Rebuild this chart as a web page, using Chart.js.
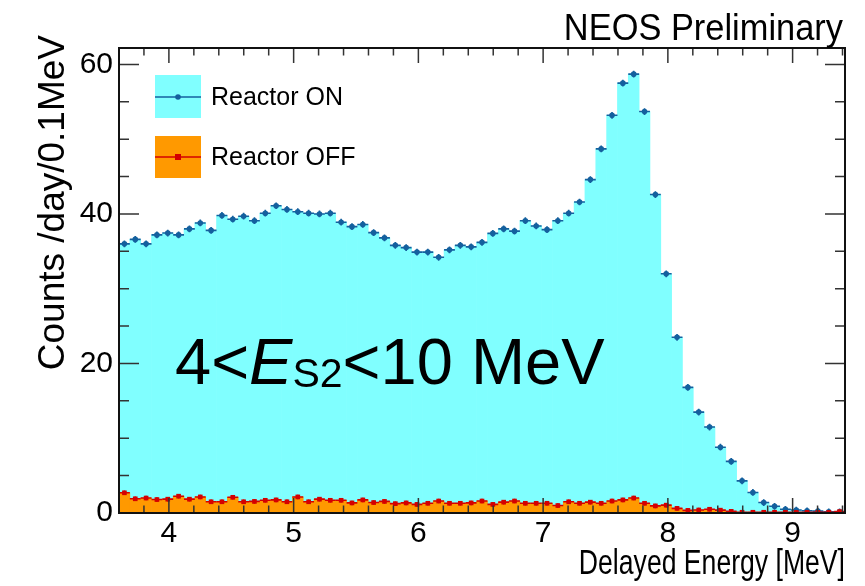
<!DOCTYPE html>
<html>
<head>
<meta charset="utf-8">
<script src="https://cdn.jsdelivr.net/npm/chart.js@4/dist/chart.umd.min.js"></script>
<style>
  html, body { margin: 0; padding: 0; background: #fff; }
  #wrap { width: 865px; height: 586px; }
</style>
</head>
<body>
<div id="wrap"><canvas id="chart" width="865" height="586"></canvas></div>
<script>
// Delayed energy spectrum, reactor on / off, counts per day per bin
const energyMin = 3.6;
const energyMax = 9.42;
const countsMax = 62.2;

const reactorOn = [
  36.0, 36.6, 36.0, 37.2, 37.45, 37.2, 38.0, 38.8, 37.8, 39.8,
  39.3, 39.7, 39.1, 40.1, 41.1, 40.6, 40.3, 40.1, 40.0, 40.1,
  38.9, 38.3, 38.6, 37.5, 36.8, 35.8, 35.5, 34.9, 34.9, 34.2,
  35.2, 35.8, 35.6, 36.2, 37.4, 38.0, 37.7, 39.1, 38.4, 37.9,
  39.1, 40.1, 41.6, 44.6, 48.7, 53.2, 57.5, 58.7, 53.7, 42.6,
  32.0, 23.5, 16.8, 13.5, 11.5, 8.8, 6.9, 4.3, 2.75, 1.4,
  0.9, 0.5, 0.4, 0.3, 0.25, 0.15, 0.15
];

const reactorOff = [
  2.7, 1.9, 2.0, 1.8, 1.85, 2.25, 1.85, 2.15, 1.5, 1.5,
  2.1, 1.5, 1.55, 1.7, 1.75, 1.5, 2.15, 1.5, 1.85, 1.7,
  1.7, 1.35, 1.75, 1.4, 1.55, 1.25, 1.35, 1.15, 1.3, 1.6,
  1.3, 1.3, 1.35, 1.6, 1.15, 1.45, 1.6, 1.3, 1.3, 1.3,
  1.0, 1.5, 1.3, 1.45, 1.3, 1.6, 1.75, 2.0, 1.3, 0.95,
  1.05, 0.62, 0.35, 0.4, 0.5, 0.38, 0.22, 0.1, 0.1, 0.1,
  0.1, 0.08, 0.08, 0.08, 0.08, 0.08, 0.18
];

// statistical error half-heights
const onErr = 0.45;
const offErr = 0.3;

const xTicks = [4, 5, 6, 7, 8, 9];
const xTickLabels = ['4', '5', '6', '7', '8', '9'];
const yTicks = [0, 20, 40, 60];
const yTickLabels = ['0', '20', '40', '60'];

const binLabels = reactorOn.map((_, i) => String(i));

const FONT = '"Liberation Sans", Arial, Helvetica, sans-serif';
const CYAN = '#80ffff';
const ORANGE = '#ff9900';
const BLUE = '#14609e';
const RED = '#d40000';

// text squeezed horizontally by sx
function squeezed(ctx, text, x, y, font, sx, align) {
  ctx.save();
  ctx.font = font;
  ctx.textAlign = align;
  ctx.translate(x, y);
  ctx.scale(sx, 1);
  ctx.fillText(text, 0, 0);
  ctx.restore();
}

function drawErrors(chart, dsIndex, values, err, color) {
  const ctx = chart.ctx;
  const bars = chart.getDatasetMeta(dsIndex).data;
  const y = chart.scales.y;
  ctx.save();
  ctx.strokeStyle = color;
  ctx.lineWidth = 1.6;
  values.forEach((v, i) => {
    const b = bars[i];
    const half = b.width / 2;
    const py = y.getPixelForValue(v);
    ctx.beginPath();
    ctx.moveTo(b.x - half, py);
    ctx.lineTo(b.x + half, py);
    ctx.moveTo(b.x, y.getPixelForValue(v + err));
    ctx.lineTo(b.x, y.getPixelForValue(Math.max(0, v - err)));
    ctx.stroke();
  });
  ctx.restore();
}

const errorBars = {
  id: 'errorBars',
  beforeDatasetDraw(chart, args) {
    if (args.index === 2) drawErrors(chart, 0, reactorOn, onErr, BLUE);
    if (args.index === 3) drawErrors(chart, 1, reactorOff, offErr, RED);
  }
};

const frame = {
  id: 'frame',
  afterDraw(chart) {
    const ctx = chart.ctx;
    const a = chart.chartArea;
    const xe = chart.scales.xe;
    const y = chart.scales.y;
    ctx.save();

    // inward ticks on all four sides
    ctx.strokeStyle = '#333';
    ctx.lineWidth = 1.5;
    ctx.beginPath();
    for (let k = 18; k <= 47; k++) {
      const e = k * 0.2;
      if (e < energyMin || e > energyMax) continue;
      const px = xe.getPixelForValue(e);
      const len = (k % 5 === 0) ? 15 : 7.5;
      ctx.moveTo(px, a.bottom); ctx.lineTo(px, a.bottom - len);
      ctx.moveTo(px, a.top); ctx.lineTo(px, a.top + len);
    }
    for (let v = 0; v <= countsMax; v += 5) {
      const py = y.getPixelForValue(v);
      const len = (v % 20 === 0) ? 20 : 10;
      ctx.moveTo(a.left, py); ctx.lineTo(a.left + len, py);
      ctx.moveTo(a.right, py); ctx.lineTo(a.right - len, py);
    }
    ctx.stroke();

    ctx.strokeStyle = '#111';
    ctx.lineWidth = 2;
    ctx.strokeRect(a.left, a.top, a.right - a.left, a.bottom - a.top);

    // tick labels
    ctx.fillStyle = '#000';
    ctx.font = '30px ' + FONT;
    ctx.textAlign = 'center';
    ctx.textBaseline = 'top';
    xTicks.forEach((t, i) => ctx.fillText(xTickLabels[i], xe.getPixelForValue(t), a.bottom + 6));
    ctx.textAlign = 'right';
    ctx.textBaseline = 'middle';
    yTicks.forEach((t, i) => ctx.fillText(yTickLabels[i], a.left - 6, y.getPixelForValue(t)));

    // axis titles
    ctx.textBaseline = 'alphabetic';
    squeezed(ctx, 'Delayed Energy [MeV]', a.right, 574, '35px ' + FONT, 0.76, 'right');

    ctx.save();
    ctx.translate(64, 35);
    ctx.rotate(-Math.PI / 2);
    ctx.font = '37px ' + FONT;
    ctx.textAlign = 'right';
    ctx.fillText('Counts /day/0.1MeV', 0, 0);
    ctx.restore();

    squeezed(ctx, 'NEOS Preliminary', 843, 40, '37px ' + FONT, 0.93, 'right');

    // legend
    ctx.fillStyle = CYAN;
    ctx.fillRect(155, 75, 46, 43);
    ctx.fillStyle = ORANGE;
    ctx.fillRect(155, 136, 46, 42);
    ctx.lineWidth = 1.5;
    ctx.strokeStyle = BLUE;
    ctx.beginPath(); ctx.moveTo(155, 97); ctx.lineTo(201, 97); ctx.stroke();
    ctx.fillStyle = BLUE;
    ctx.beginPath(); ctx.arc(178, 97, 2.8, 0, Math.PI * 2); ctx.fill();
    ctx.strokeStyle = RED;
    ctx.beginPath(); ctx.moveTo(155, 157); ctx.lineTo(201, 157); ctx.stroke();
    ctx.fillStyle = RED;
    ctx.fillRect(175, 154, 6, 6);

    ctx.fillStyle = '#000';
    ctx.font = '25px ' + FONT;
    ctx.textAlign = 'left';
    ctx.textBaseline = 'middle';
    ctx.fillText('Reactor ON', 211, 98);
    ctx.fillText('Reactor OFF', 211, 158);

    // energy window of the prompt signal
    ctx.textBaseline = 'alphabetic';
    let x = 175;
    const base = 384;
    ctx.font = '65px ' + FONT;
    ctx.fillText('4<', x, base);
    x += ctx.measureText('4<').width;
    ctx.font = 'italic 65px ' + FONT;
    ctx.fillText('E', x, base);
    x += ctx.measureText('E').width;
    ctx.font = '41px ' + FONT;
    ctx.fillText('S2', x, base + 3);
    x += ctx.measureText('S2').width;
    ctx.font = '65px ' + FONT;
    ctx.fillText('<10 MeV', x, base);

    ctx.restore();
  }
};

new Chart(document.getElementById('chart'), {
  data: {
    labels: binLabels,
    datasets: [
      {
        type: 'bar', label: 'Reactor ON', data: reactorOn,
        backgroundColor: CYAN, borderWidth: 0, order: 3,
        barPercentage: 1, categoryPercentage: 1, grouped: false
      },
      {
        type: 'bar', label: 'Reactor OFF', data: reactorOff,
        backgroundColor: ORANGE, borderWidth: 0, order: 2,
        barPercentage: 1, categoryPercentage: 1, grouped: false
      },
      {
        type: 'line', data: reactorOn, showLine: false, order: 1,
        pointStyle: 'circle', pointRadius: 2.8, pointBorderWidth: 0,
        pointBackgroundColor: BLUE
      },
      {
        type: 'line', data: reactorOff, showLine: false, order: 0,
        pointStyle: 'rect', pointRadius: 3.3, pointBorderWidth: 0,
        pointBackgroundColor: RED
      }
    ]
  },
  options: {
    responsive: false,
    animation: false,
    devicePixelRatio: 1,
    layout: { padding: { left: 119, right: 20, top: 48, bottom: 73 } },
    plugins: { legend: { display: false }, tooltip: { enabled: false } },
    scales: {
      x: { type: 'category', display: false, offset: true },
      xe: { type: 'linear', axis: 'x', position: 'bottom', display: false, min: energyMin, max: energyMax },
      y: { type: 'linear', display: false, min: 0, max: countsMax }
    }
  },
  plugins: [errorBars, frame]
});
</script>
</body>
</html>
